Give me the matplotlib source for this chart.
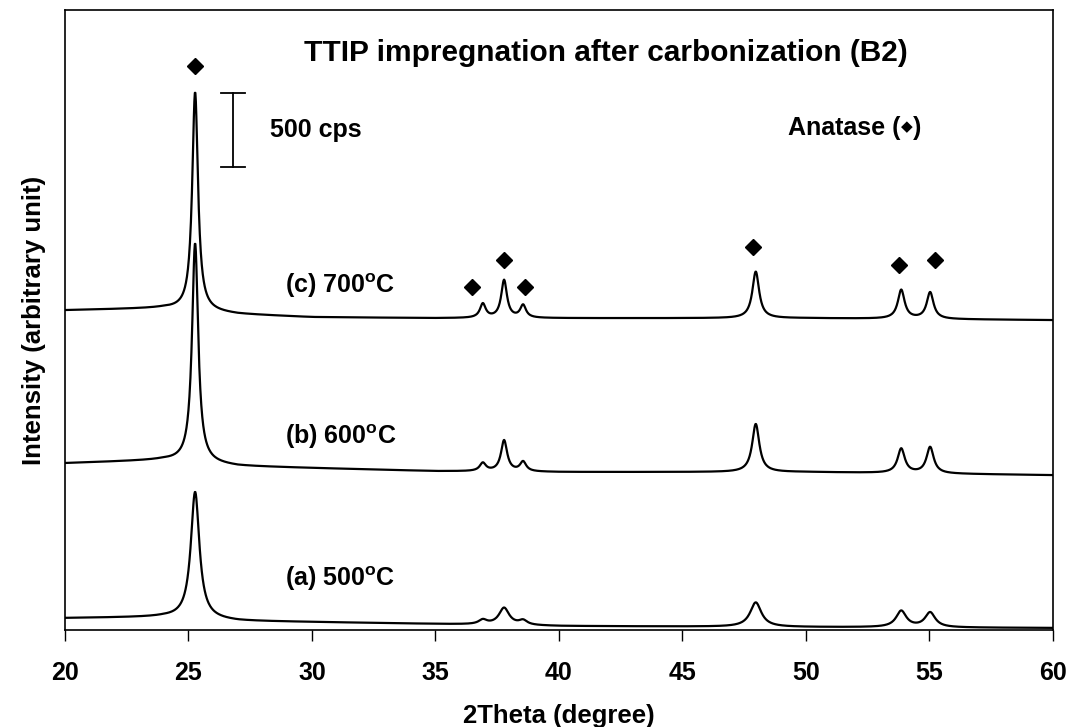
"""XRD patterns of TTIP-impregnated samples after carbonization (B2)."""
import numpy as np
import matplotlib
matplotlib.use("Agg")
import matplotlib.pyplot as plt

plt.rcParams["font.family"] = ["Liberation Sans", "DejaVu Sans"]
plt.rcParams["font.weight"] = "bold"
plt.rcParams["mathtext.fontset"] = "custom"
plt.rcParams["mathtext.bf"] = "Liberation Sans:bold"
plt.rcParams["mathtext.rm"] = "Liberation Sans:bold"

# --- data (intensity in cps, stacked) ---
labels = ["(a) 500$^{\\mathrm{o}}$C", "(b) 600$^{\\mathrm{o}}$C", "(c) 700$^{\\mathrm{o}}$C"]
label_y = [350, 1310, 2325]

# background knots (2theta, cps) per trace
bg_x = [20, 24, 27, 30, 35, 40, 50, 60]
bg_a = [81, 88, 61, 54, 41, 27, 20, 14]
bg_b = [1128, 1149, 1108, 1095, 1074, 1068, 1068, 1047]
bg_c = [2162, 2176, 2135, 2115, 2108, 2108, 2108, 2095]

# anatase reflections: position, height above background, FWHM
pk_pos = [25.27, 36.92, 37.78, 38.55, 47.97, 53.86, 55.03]
pk_h_a = [858, 30, 115, 30, 165, 110, 100]
pk_h_b = [1485, 55, 210, 65, 325, 165, 178]
pk_h_c = [1480, 95, 255, 85, 315, 195, 180]
pk_w_a = [0.42, 0.40, 0.50, 0.40, 0.55, 0.50, 0.50]
pk_w_b = [0.30, 0.30, 0.30, 0.30, 0.35, 0.35, 0.35]
pk_w_c = [0.28, 0.28, 0.28, 0.28, 0.33, 0.33, 0.33]

# anatase markers (2theta, cps)
mark_x = [25.26, 36.48, 37.77, 38.62, 47.85, 53.77, 55.22]
mark_y = [3811, 2318, 2500, 2318, 2588, 2466, 2500]

# 500 cps scale bar
bar_x = 26.8
bar_y = [3128, 3628]


def pattern(x, bg, heights, widths):
    y = np.interp(x, bg_x, bg)
    for c, h, w in zip(pk_pos, heights, widths):
        y = y + h / (1 + ((x - c) / (w / 2)) ** 2)
    return y


tt = np.linspace(20, 60, 2001)
traces = [
    pattern(tt, bg_a, pk_h_a, pk_w_a),
    pattern(tt, bg_b, pk_h_b, pk_w_b),
    pattern(tt, bg_c, pk_h_c, pk_w_c),
]

fig = plt.figure(figsize=(10.7, 7.27), dpi=100)
ax = fig.add_axes([0.0607, 0.1334, 0.9233, 0.8526])

for y in traces:
    ax.plot(tt, y, color="black", lw=1.6)

ax.plot(mark_x, mark_y, "D", color="black", ms=8, ls="none")

# scale bar
ax.plot([bar_x, bar_x], bar_y, color="black", lw=1.3)
for yy in bar_y:
    ax.plot([bar_x - 0.48, bar_x + 0.48], [yy, yy], color="black", lw=1.3)
ax.text(28.3, 3380, "500 cps", fontsize=18, fontweight="bold", va="center", ha="left")

ax.text(41.9, 3900, "TTIP impregnation after carbonization (B2)",
        fontsize=21.5, fontweight="bold", ha="center", va="center")

# "Anatase (◆)" with a small diamond, as in the original
ax.text(49.27, 3395, "Anatase (", fontsize=18, fontweight="bold",
        ha="left", va="center")
ax.text(54.09, 3405, "\u25c6", fontsize=11, family="DejaVu Sans",
        ha="center", va="center")
ax.text(54.33, 3395, ")", fontsize=18, fontweight="bold", ha="left", va="center")

for lab, yy in zip(labels, label_y):
    ax.text(28.9, yy, lab, fontsize=18, fontweight="bold", ha="left", va="center")

ax.set_xlim(20, 60)
ax.set_ylim(0, 4190)
ax.set_xticks(range(20, 61, 5))
ax.set_yticks([])
ax.tick_params(axis="x", direction="out", length=8, width=1, labelsize=18, pad=14)
for lab in ax.get_xticklabels():
    lab.set_fontweight("bold")
for s in ax.spines.values():
    s.set_linewidth(1.2)
ax.set_xlabel("2Theta (degree)", fontsize=18.5, fontweight="bold", labelpad=14)
ax.set_ylabel("Intensity (arbitrary unit)", fontsize=18.5, fontweight="bold", labelpad=14)

fig.savefig("out.png", dpi=100)
